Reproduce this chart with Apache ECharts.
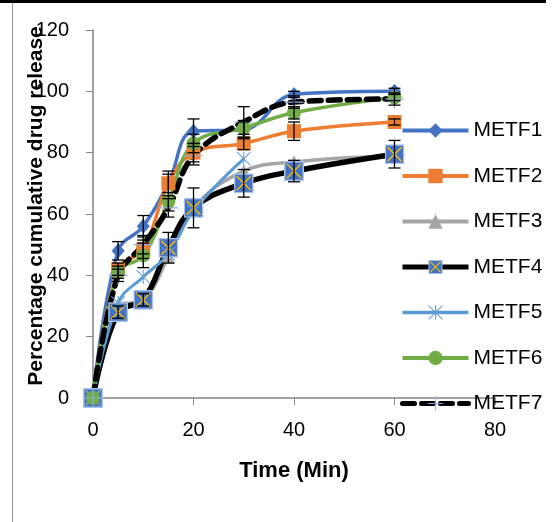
<!DOCTYPE html>
<html>
<head>
<meta charset="utf-8">
<script src="https://cdn.jsdelivr.net/npm/echarts@6/dist/echarts.min.js"></script>
<style>
  html, body { margin: 0; padding: 0; background: #fff; }
  #main { width: 560px; height: 522px; }
</style>
</head>
<body>
<div id="main"></div>
<script>
// time points (min)
var times = [0, 5, 10, 15, 20, 30, 40, 60];

// cumulative release (%)
var metf1 = [0, 48, 56, 70, 87, 87.5, 99, 100];
var metf2 = [0, 42, 48.5, 70, 80, 83, 87, 90];
var metf3 = [0, 30, 32, 46, 62, 74, 77, 79];
var metf4 = [0, 28, 32, 49, 62, 70, 74, 79.5];
var metf5 = [0, 31, 39.5, 47, 61, 78, null, null];
var metf6 = [0, 41, 46.5, 64, 83, 88, 93, 98];
var metf7 = [0, 40, 50, 62, 79, 90, 96.5, 97.5];

// error bars (+/-) for the series that show them
var err1 = [0, 3, 3.5, 3, 4, 3, 1, 1];
var err2 = [0, 2, 3, 4, 3, 2, 3, 1];
var err4 = [0, 2, 2, 5, 6.5, 4.5, 3.5, 4.5];
var err6 = [0, 2, 4, 3, 3, 2, 2, 1];
var err7 = [0, 2, 3, 3, 3, 5, 2, 2];

var names = ['METF1', 'METF2', 'METF3', 'METF4', 'METF5', 'METF6', 'METF7'];
var xTicks = [0, 20, 40, 60, 80];
var yTicks = [0, 20, 40, 60, 80, 100, 120];

var FONT = 'Liberation Sans';

function pairs(vals) {
  var out = [];
  times.forEach(function (t, i) {
    if (vals[i] !== null) out.push([t, vals[i]]);
  });
  return out;
}
function errPairs(vals, errs) {
  var out = [];
  times.forEach(function (t, i) {
    if (errs[i] > 0) out.push([t, vals[i], errs[i]]);
  });
  return out;
}

// blue square with yellow cross (METF4 marker)
var boxX = 'image://data:image/svg+xml;charset=utf-8,' + encodeURIComponent(
  "<svg xmlns='http://www.w3.org/2000/svg' width='20' height='20'>" +
  "<rect x='0.75' y='0.75' width='18.5' height='18.5' fill='#4472C4' stroke='#A9C4EB' stroke-width='1.5'/>" +
  "<path d='M3 3L17 17M17 3L3 17' stroke='#FFC000' stroke-width='1.4'/></svg>");
var star = 'path://M1,0L20,19L19,20L0,1Z M19,0L20,1L1,20L0,19Z M9.3,0L10.7,0L10.7,20L9.3,20Z';
var plus = 'path://M9.4,0L10.6,0L10.6,9.4L20,9.4L20,10.6L10.6,10.6L10.6,20L9.4,20L9.4,10.6L0,10.6L0,9.4L9.4,9.4Z';

var smoothK = 0.4;

function errSeries(vals, errs) {
  return {
    type: 'custom',
    z: 5,
    silent: true,
    data: errPairs(vals, errs),
    renderItem: function (params, api) {
      var x = api.value(0), y = api.value(1), e = api.value(2);
      var top = api.coord([x, y + e]);
      var bot = api.coord([x, y - e]);
      var w = 6;
      var st = { stroke: '#000', lineWidth: 1.3 };
      return {
        type: 'group',
        children: [
          { type: 'line', shape: { x1: top[0], y1: top[1], x2: bot[0], y2: bot[1] }, style: st },
          { type: 'line', shape: { x1: top[0] - w, y1: top[1], x2: top[0] + w, y2: top[1] }, style: st },
          { type: 'line', shape: { x1: bot[0] - w, y1: bot[1], x2: bot[0] + w, y2: bot[1] }, style: st }
        ]
      };
    }
  };
}

var option = {
  backgroundColor: '#ffffff',
  animation: false,
  grid: { left: 93, right: 65, top: 30, bottom: 124, outerBoundsMode: 'none', containLabel: false },
  legend: {
    orient: 'vertical',
    left: 400,
    top: 118,
    padding: 0,
    itemWidth: 66,
    itemHeight: 18,
    itemGap: 20.5,
    textStyle: { fontFamily: FONT, fontSize: 21, color: '#000', lineHeight: 25 },
    data: [
      { name: 'METF1', lineStyle: { width: 4 } },
      { name: 'METF2', lineStyle: { width: 4 } },
      { name: 'METF3', lineStyle: { width: 4 } },
      { name: 'METF4', lineStyle: { width: 5 } },
      { name: 'METF5', lineStyle: { width: 3.5 } },
      { name: 'METF6', lineStyle: { width: 4 } },
      { name: 'METF7', lineStyle: { width: 5 } }
    ]
  },
  xAxis: {
    type: 'value',
    min: 0, max: 80, interval: 20,
    name: 'Time (Min)',
    nameLocation: 'middle',
    nameGap: 62,
    nameMoveOverlap: false,
    nameTextStyle: { fontFamily: FONT, fontSize: 22, fontWeight: 'bold', color: '#000' },
    axisLine: { show: true, lineStyle: { color: '#868686', width: 1.5 } },
    axisTick: { show: true, inside: false, length: 7, lineStyle: { color: '#868686' } },
    splitLine: { show: false },
    axisLabel: {
      fontFamily: FONT, fontSize: 20, color: '#000', margin: 22,
      formatter: function (v) { return xTicks.indexOf(v) >= 0 ? String(v) : ''; }
    }
  },
  yAxis: {
    type: 'value',
    min: 0, max: 120, interval: 20,
    name: 'Percentage cumulative drug release',
    nameLocation: 'middle',
    nameGap: 46,
    nameMoveOverlap: false,
    nameTextStyle: { fontFamily: FONT, fontSize: 21, fontWeight: 'bold', color: '#000', padding: [0, 0, 0, 16] },
    axisLine: { show: true, lineStyle: { color: '#868686', width: 1.5 } },
    axisTick: { show: true, inside: false, length: 7, lineStyle: { color: '#868686' } },
    splitLine: { show: false },
    axisLabel: {
      fontFamily: FONT, fontSize: 20, color: '#000', margin: 24,
      formatter: function (v) { return yTicks.indexOf(v) >= 0 ? String(v) : ''; }
    }
  },
  graphic: [
    // page decoration: table edge on top and frame line on the left
    { type: 'rect', shape: { x: 0, y: 0, width: 546, height: 3 }, style: { fill: '#000' }, silent: true },
    { type: 'line', shape: { x1: 12.5, y1: 3, x2: 12.5, y2: 522 }, style: { stroke: '#9a9a9a', lineWidth: 1 }, silent: true }
  ],
  series: [
    {
      name: 'METF1', type: 'line', data: pairs(metf1), smooth: smoothK,
      symbol: 'diamond', symbolSize: [13, 15],
      lineStyle: { color: '#4472C4', width: 3.5 },
      itemStyle: { color: '#4472C4' }
    },
    {
      name: 'METF2', type: 'line', data: pairs(metf2), smooth: smoothK,
      symbol: 'rect', symbolSize: 14,
      lineStyle: { color: '#ED7D31', width: 3.5 },
      itemStyle: { color: '#ED7D31' }
    },
    {
      name: 'METF3', type: 'line', data: pairs(metf3), smooth: smoothK,
      symbol: 'triangle', symbolSize: 13,
      lineStyle: { color: '#A5A5A5', width: 3.5 },
      itemStyle: { color: '#A5A5A5' }
    },
    {
      name: 'METF4', type: 'line', data: pairs(metf4), smooth: smoothK,
      symbol: boxX, symbolSize: 20,
      lineStyle: { color: '#000000', width: 5.5 },
      itemStyle: { color: '#000000' }
    },
    {
      name: 'METF5', type: 'line', data: pairs(metf5), smooth: smoothK,
      symbol: star, symbolSize: 14,
      lineStyle: { color: '#5B9BD5', width: 3 },
      itemStyle: { color: '#5B9BD5' }
    },
    {
      name: 'METF6', type: 'line', data: pairs(metf6), smooth: smoothK,
      symbol: 'circle', symbolSize: 14,
      lineStyle: { color: '#70AD47', width: 3.5 },
      itemStyle: { color: '#70AD47' }
    },
    {
      name: 'METF7', type: 'line', data: pairs(metf7), smooth: smoothK,
      symbol: plus, symbolSize: 19,
      lineStyle: { color: '#000000', width: 5.5, type: [12, 7], cap: 'round' },
      itemStyle: { color: '#8FAADC' }
    },
    errSeries(metf1, err1),
    errSeries(metf2, err2),
    errSeries(metf4, err4),
    errSeries(metf6, err6),
    errSeries(metf7, err7)
  ]
};

var chart = echarts.init(document.getElementById('main'), null, { renderer: 'canvas' });
chart.setOption(option);
</script>
</body>
</html>
